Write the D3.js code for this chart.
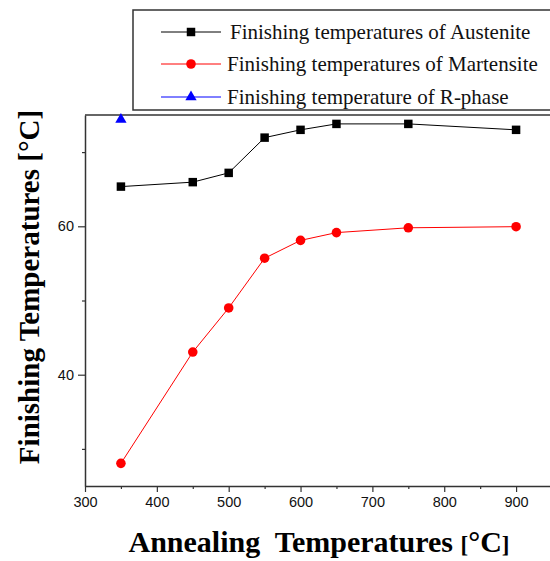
<!DOCTYPE html>
<html>
<head>
<meta charset="utf-8">
<script src="https://cdn.jsdelivr.net/npm/d3@7"></script>
<style>
  body { margin: 0; background: #fff; }
  svg { display: block; }
</style>
</head>
<body>
<div id="chart"></div>
<script>
// annealing temperatures (x)
const annealTemps = [350, 450, 500, 550, 600, 650, 750, 900];
// finishing temperature series
const austenite = [65.35, 65.95, 67.2, 71.95, 73.0, 73.8, 73.8, 73.0];
const martensite = [28.05, 43.05, 49.0, 55.7, 58.1, 59.15, 59.8, 59.95];
const rPhaseTemps = [350];
const rPhase = [74.4];

const xMajorTicks = [300, 400, 500, 600, 700, 800, 900];
const xMinorTicks = [350, 450, 550, 650, 750, 850, 950];
const yMajorTicks = [40, 60];
const yMinorTicks = [30, 50, 70];

const legendLabels = [
    "Finishing temperatures of Austenite",
    "Finishing temperatures of Martensite",
    "Finishing temperature of R-phase"
];

const width = 550, height = 561;
const margin = { top: 115, right: -2, bottom: 75, left: 85 };

const svg = d3.select("#chart").append("svg")
    .attr("width", width)
    .attr("height", height);

const x = d3.scaleLinear().domain([300, 950]).range([margin.left, width - margin.right]);
const y = d3.scaleLinear().domain([25, 75]).range([height - margin.bottom, margin.top]);

const axisColor = "#333";
const tickFont = "'Liberation Sans', Arial, sans-serif";
const serif = "'Liberation Serif', 'Times New Roman', serif";

// frame top line
svg.append("line")
    .attr("x1", x(300)).attr("x2", x(950))
    .attr("y1", y(75)).attr("y2", y(75))
    .attr("stroke", axisColor).attr("stroke-width", 1.5);

// x axis
svg.append("g")
    .attr("transform", `translate(0,${y(25)})`)
    .call(d3.axisBottom(x).tickValues(xMajorTicks).tickSize(6).tickPadding(5).tickSizeOuter(0));
svg.append("g")
    .attr("transform", `translate(0,${y(25)})`)
    .call(d3.axisBottom(x).tickValues(xMinorTicks).tickSize(3).tickFormat("").tickSizeOuter(0))
    .select(".domain").remove();

// y axis
svg.append("g")
    .attr("transform", `translate(${x(300)},0)`)
    .call(d3.axisLeft(y).tickValues(yMajorTicks).tickSize(7).tickPadding(4).tickSizeOuter(0));
svg.append("g")
    .attr("transform", `translate(${x(300)},0)`)
    .call(d3.axisLeft(y).tickValues(yMinorTicks).tickSize(3).tickFormat("").tickSizeOuter(0))
    .select(".domain").remove();

svg.selectAll(".domain").attr("stroke", axisColor).attr("stroke-width", 1.5);
svg.selectAll(".tick line").attr("stroke", axisColor).attr("stroke-width", 1.2);
svg.selectAll(".tick text")
    .style("font-family", tickFont)
    .style("font-size", "14.5px")
    .attr("fill", "#111");

// axis titles
svg.append("text")
    .attr("transform", "translate(39,287) rotate(-90)")
    .attr("text-anchor", "middle")
    .style("font-family", serif)
    .style("font-weight", "bold")
    .style("font-size", "29px")
    .text("Finishing Temperatures [°C]");

const xTitle = svg.append("text")
    .attr("x", 319)
    .attr("y", 552)
    .attr("text-anchor", "middle")
    .style("font-family", serif)
    .style("font-weight", "bold")
    .style("font-size", "30px");
xTitle.append("tspan").text("Annealing\u00a0 Temperatures ");
xTitle.append("tspan").style("font-size", "23px").text("[");
xTitle.append("tspan").text("°C");
xTitle.append("tspan").style("font-size", "23px").text("]");

// series
const line = d3.line().x(d => x(d[0])).y(d => y(d[1]));

const austData = d3.zip(annealTemps, austenite);
const martData = d3.zip(annealTemps, martensite);
const rData = d3.zip(rPhaseTemps, rPhase);

svg.append("path").datum(austData)
    .attr("d", line).attr("fill", "none").attr("stroke", "#000").attr("stroke-width", 1);
svg.append("path").datum(martData)
    .attr("d", line).attr("fill", "none").attr("stroke", "#ff0000").attr("stroke-width", 1);

const square = d3.symbol().type(d3.symbolSquare).size(72);
const circle = d3.symbol().type(d3.symbolCircle).size(72);
const triangle = d3.symbol().type(d3.symbolTriangle).size(55);

svg.selectAll(".aust").data(austData).enter().append("path")
    .attr("class", "aust")
    .attr("transform", d => `translate(${x(d[0])},${y(d[1])})`)
    .attr("d", square).attr("fill", "#000");
svg.selectAll(".mart").data(martData).enter().append("path")
    .attr("class", "mart")
    .attr("transform", d => `translate(${x(d[0])},${y(d[1])})`)
    .attr("d", circle).attr("fill", "#ff0000");
svg.selectAll(".rph").data(rData).enter().append("path")
    .attr("class", "rph")
    .attr("transform", d => `translate(${x(d[0])},${y(d[1])})`)
    .attr("d", triangle).attr("fill", "#0000ff");

// legend
const legend = svg.append("g");
legend.append("rect")
    .attr("x", 133).attr("y", 10)
    .attr("width", 430).attr("height", 100)
    .attr("fill", "#fff").attr("stroke", axisColor).attr("stroke-width", 1.5);

const legendColors = ["#000", "#ff0000", "#0000ff"];
const legendSymbols = [square, circle, triangle];
const legendRows = [32, 64, 97];

legendLabels.forEach((lab, i) => {
    const gy = legendRows[i];
    legend.append("line")
        .attr("x1", 161).attr("x2", 221)
        .attr("y1", gy).attr("y2", gy)
        .attr("stroke", legendColors[i]).attr("stroke-width", 1);
    legend.append("path")
        .attr("transform", `translate(191,${gy})`)
        .attr("d", legendSymbols[i]).attr("fill", legendColors[i]);
    legend.append("text")
        .attr("x", i === 0 ? 230 : 227)
        .attr("y", gy + 7)
        .style("font-family", serif)
        .style("font-size", "21px")
        .attr("fill", "#111")
        .text(lab);
});
</script>
</body>
</html>
